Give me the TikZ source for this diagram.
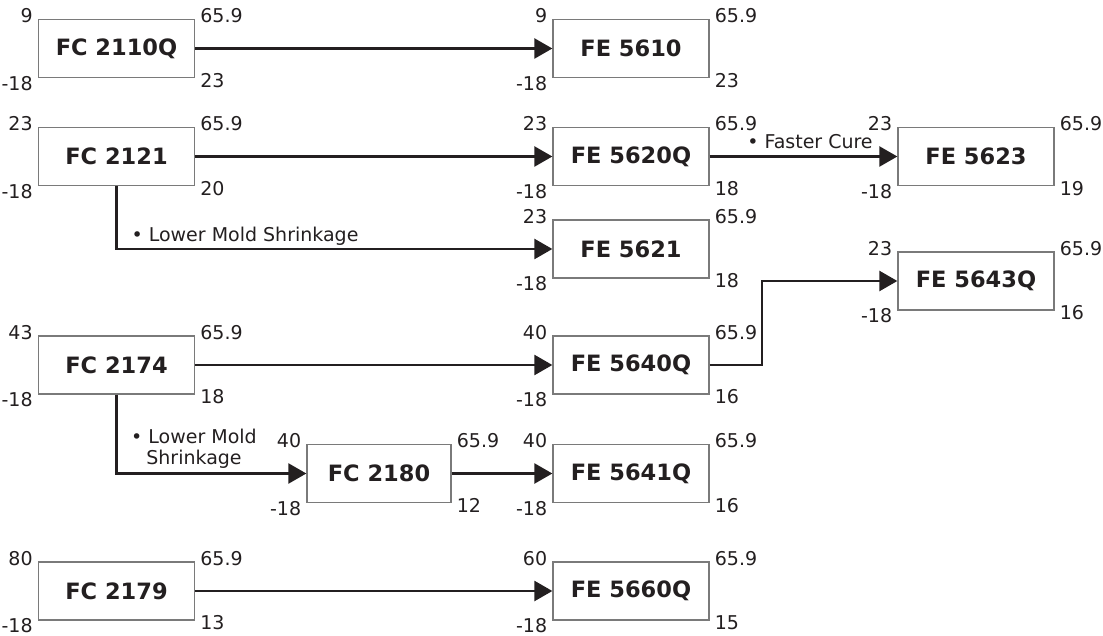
\documentclass[tikz,border=0pt]{standalone}
\usepackage{fontspec}
\setmainfont{DejaVu Sans}
\usetikzlibrary{arrows.meta,calc}
\definecolor{ink}{HTML}{231F20}
\definecolor{edgegray}{HTML}{7A7A7A}
\tikzset{
  box/.style={draw=edgegray, line width=1.3pt, minimum width=156pt, minimum height=58pt,
    inner sep=0pt, font=\fontsize{22.5}{27}\selectfont\bfseries, text=ink},
  num/.style={font=\fontsize{19}{23}\selectfont, text=ink, inner sep=0pt},
  ann/.style={font=\fontsize{19}{21}\selectfont, text=ink, inner sep=0pt, align=center},
  conn/.style={draw=ink, line width=2.5pt},
  flow/.style={conn, -{Triangle[length=18pt,width=20pt]}},
}
\newcommand\boxnums[5]{%
  \node[num, anchor=base east] at ($(#1.north west)+(-5,4)$) {#2};
  \node[num, anchor=base west] at ($(#1.north east)+(5,4)$) {#3};
  \node[num, anchor=base east] at ($(#1.south west)+(-5,12)$) {#4};
  \node[num, anchor=base west] at ($(#1.south east)+(5,9)$) {#5};
}
\begin{document}
\begin{tikzpicture}[x=1pt,y=-1pt]
\useasboundingbox (0,0) rectangle (1103,636);
% boxes
\node[box] (fc2110) at (116.5,48.5) {FC 2110Q};
\node[box] (fe5610) at (631,48.5) {FE 5610};
\node[box] (fc2121) at (116.5,156.5) {FC 2121};
\node[box] (fe5620q) at (631,156.5) {FE 5620Q};
\node[box] (fe5623) at (976,156.5) {FE 5623};
\node[box] (fe5621) at (631,249) {FE 5621};
\node[box] (fe5643q) at (976,281) {FE 5643Q};
\node[box] (fc2174) at (116.5,365) {FC 2174};
\node[box] (fe5640q) at (631,365) {FE 5640Q};
\node[box, minimum width=144pt] (fc2180) at (379,473.5) {FC 2180};
\node[box] (fe5641q) at (631,473.5) {FE 5641Q};
\node[box] (fc2179) at (116.5,591) {FC 2179};
\node[box] (fe5660q) at (631,591) {FE 5660Q};
% corner numbers
\boxnums{fc2110}{9}{65.9}{-18}{23}
\boxnums{fe5610}{9}{65.9}{-18}{23}
\boxnums{fc2121}{23}{65.9}{-18}{20}
\boxnums{fe5620q}{23}{65.9}{-18}{18}
\boxnums{fe5623}{23}{65.9}{-18}{19}
\boxnums{fe5621}{23}{65.9}{-18}{18}
\boxnums{fe5643q}{23}{65.9}{-18}{16}
\boxnums{fc2174}{43}{65.9}{-18}{18}
\boxnums{fe5640q}{40}{65.9}{-18}{16}
\boxnums{fc2180}{40}{65.9}{-18}{12}
\boxnums{fe5641q}{40}{65.9}{-18}{16}
\boxnums{fc2179}{80}{65.9}{-18}{13}
\boxnums{fe5660q}{60}{65.9}{-18}{15}
% connectors
\draw[flow] (fc2110.east) -- (fe5610.west);
\draw[flow] (fc2121.east) -- (fe5620q.west);
\draw[flow] (fe5620q.east) -- (fe5623.west);
\draw[flow] (fc2121.south) |- (fe5621.west);
\draw[flow] (fc2174.east) -- (fe5640q.west);
\coordinate (bend) at (762,365);
\draw[flow] (fe5640q.east) -- (bend) |- (fe5643q.west);
\draw[flow] (fc2174.south) |- (fc2180.west);
\draw[flow] (fc2180.east) -- (fe5641q.west);
\draw[flow] (fc2179.east) -- (fe5660q.west);
% annotations
\node[ann, anchor=base] (faster) at (810,149) {• Faster Cure};
\node[ann, anchor=base] (lms1) at (245,241.5) {• Lower Mold Shrinkage};
\node[ann, anchor=south] (lms2) at (194,468.5) {• Lower Mold\\Shrinkage};
\end{tikzpicture}
\end{document}
